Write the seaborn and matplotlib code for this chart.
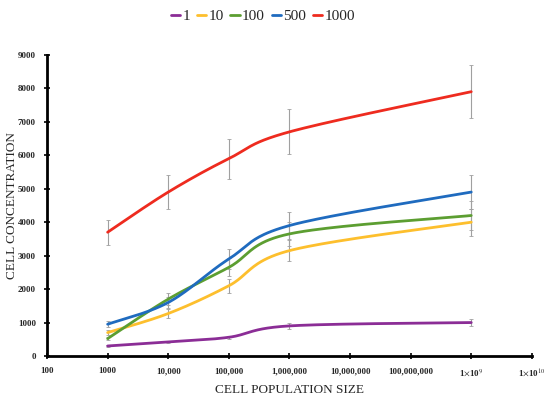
import numpy as np
import pandas as pd
import matplotlib
matplotlib.use("Agg")
import matplotlib.pyplot as plt
import seaborn as sns

# ---- data ----
population = [1e3, 1e4, 1e5, 1e6, 1e9]
series_names = ["1", "10", "100", "500", "1000"]
conc_1 = [300, 420, 560, 900, 1000]
conc_10 = [700, 1270, 2100, 3150, 4000]
conc_100 = [520, 1700, 2650, 3650, 4200]
conc_500 = [950, 1600, 2900, 3900, 4900]
conc_1000 = [3700, 4900, 5900, 6700, 7900]
err_1 = [30, 40, 50, 90, 100]
err_10 = [70, 130, 210, 320, 400]
err_100 = [50, 170, 270, 370, 420]
err_500 = [90, 160, 300, 400, 500]
err_1000 = [370, 500, 600, 670, 800]
x_tick_values = [1e2, 1e3, 1e4, 1e5, 1e6, 1e7, 1e8, 1e9, 1e10]
x_tick_labels = ["100", "1000", "10,000", "100,000", "1,000,000", "10,000,000",
                 "100,000,000", r"1$\times$10$^{9}$", r"1$\times$10$^{10}$"]
y_tick_values = [0, 1000, 2000, 3000, 4000, 5000, 6000, 7000, 8000, 9000]

colors = ["#8B2D96", "#FDBF2D", "#5C9E31", "#1F6BBF", "#EE2B1F"]
values = [conc_1, conc_10, conc_100, conc_500, conc_1000]
errors = [err_1, err_10, err_100, err_500, err_1000]


def smooth(xs, ys, n=40):
    """Excel-like smoothed line (Bezier through points) in log-x space."""
    lx = np.log10(np.asarray(xs, float))
    y = np.asarray(ys, float)
    P = np.column_stack([lx, y])
    out = []
    m = len(P)
    for i in range(m - 1):
        p0 = P[i - 1] if i > 0 else P[i]
        p1 = P[i]
        p2 = P[i + 1]
        p3 = P[i + 2] if i + 2 < m else P[i + 1]
        c1 = p1 + (p2 - p0) / 6.0
        c2 = p2 - (p3 - p1) / 6.0
        t = np.linspace(0, 1, n, endpoint=(i == m - 2))[:, None]
        b = ((1 - t) ** 3) * p1 + 3 * ((1 - t) ** 2) * t * c1 + 3 * (1 - t) * t ** 2 * c2 + t ** 3 * p2
        out.append(b)
    out = np.vstack(out)
    return 10 ** out[:, 0], out[:, 1]


sns.set_theme(style="white")
plt.rcParams["font.family"] = ["Liberation Serif", "DejaVu Serif"]
plt.rcParams["mathtext.fontset"] = "stix"

fig = plt.figure(figsize=(5.5, 3.95), dpi=100)
ax = fig.add_axes([0.0855, 0.0987, 0.8815, 0.7623])

rows = []
for name, ys in zip(series_names, values):
    sx, sy = smooth(population, ys)
    for a, b in zip(sx, sy):
        rows.append({"size": a, "conc": b, "series": name})
df = pd.DataFrame(rows)

for ys, es in zip(values, errors):
    ax.errorbar(population, ys, yerr=es, fmt="none", ecolor="#A0A0A0",
                elinewidth=0.8, capsize=1.5, capthick=0.6, zorder=1)

sns.lineplot(data=df, x="size", y="conc", hue="series", hue_order=series_names,
             palette=colors, sort=False, estimator=None, linewidth=2.0, ax=ax, zorder=2)

ax.set_xscale("log")
ax.set_xlim(1e2, 1e10)
ax.set_ylim(0, 9000)
ax.set_xticks(x_tick_values)
ax.set_xticklabels(x_tick_labels)
ax.minorticks_off()
ax.set_yticks(y_tick_values)
ax.set_yticklabels([str(v) for v in y_tick_values])
for lab in ax.get_xticklabels() + ax.get_yticklabels():
    lab.set_fontweight("bold")
    lab.set_fontsize(6.5)

ax.tick_params(axis="both", which="major", direction="inout", length=4, width=1.2,
               color="black", bottom=True, left=True, pad=6)
for s in ["top", "right"]:
    ax.spines[s].set_visible(False)
for s in ["left", "bottom"]:
    ax.spines[s].set_color("black")
    ax.spines[s].set_linewidth(2.0)

ax.set_xlabel("CELL POPULATION SIZE", fontsize=9.5, labelpad=4)
ax.set_ylabel("CELL CONCENTRATION", fontsize=9.5, labelpad=0)

handles, labels = ax.get_legend_handles_labels()
ax.get_legend().remove()
fig.legend(handles, labels, loc="upper center", bbox_to_anchor=(0.478, 1.0), ncol=5,
           frameon=False, fontsize=11, handlelength=0.6, handletextpad=0.15,
           columnspacing=0.45, borderaxespad=0.2)

fig.savefig("out.png", dpi=100)
